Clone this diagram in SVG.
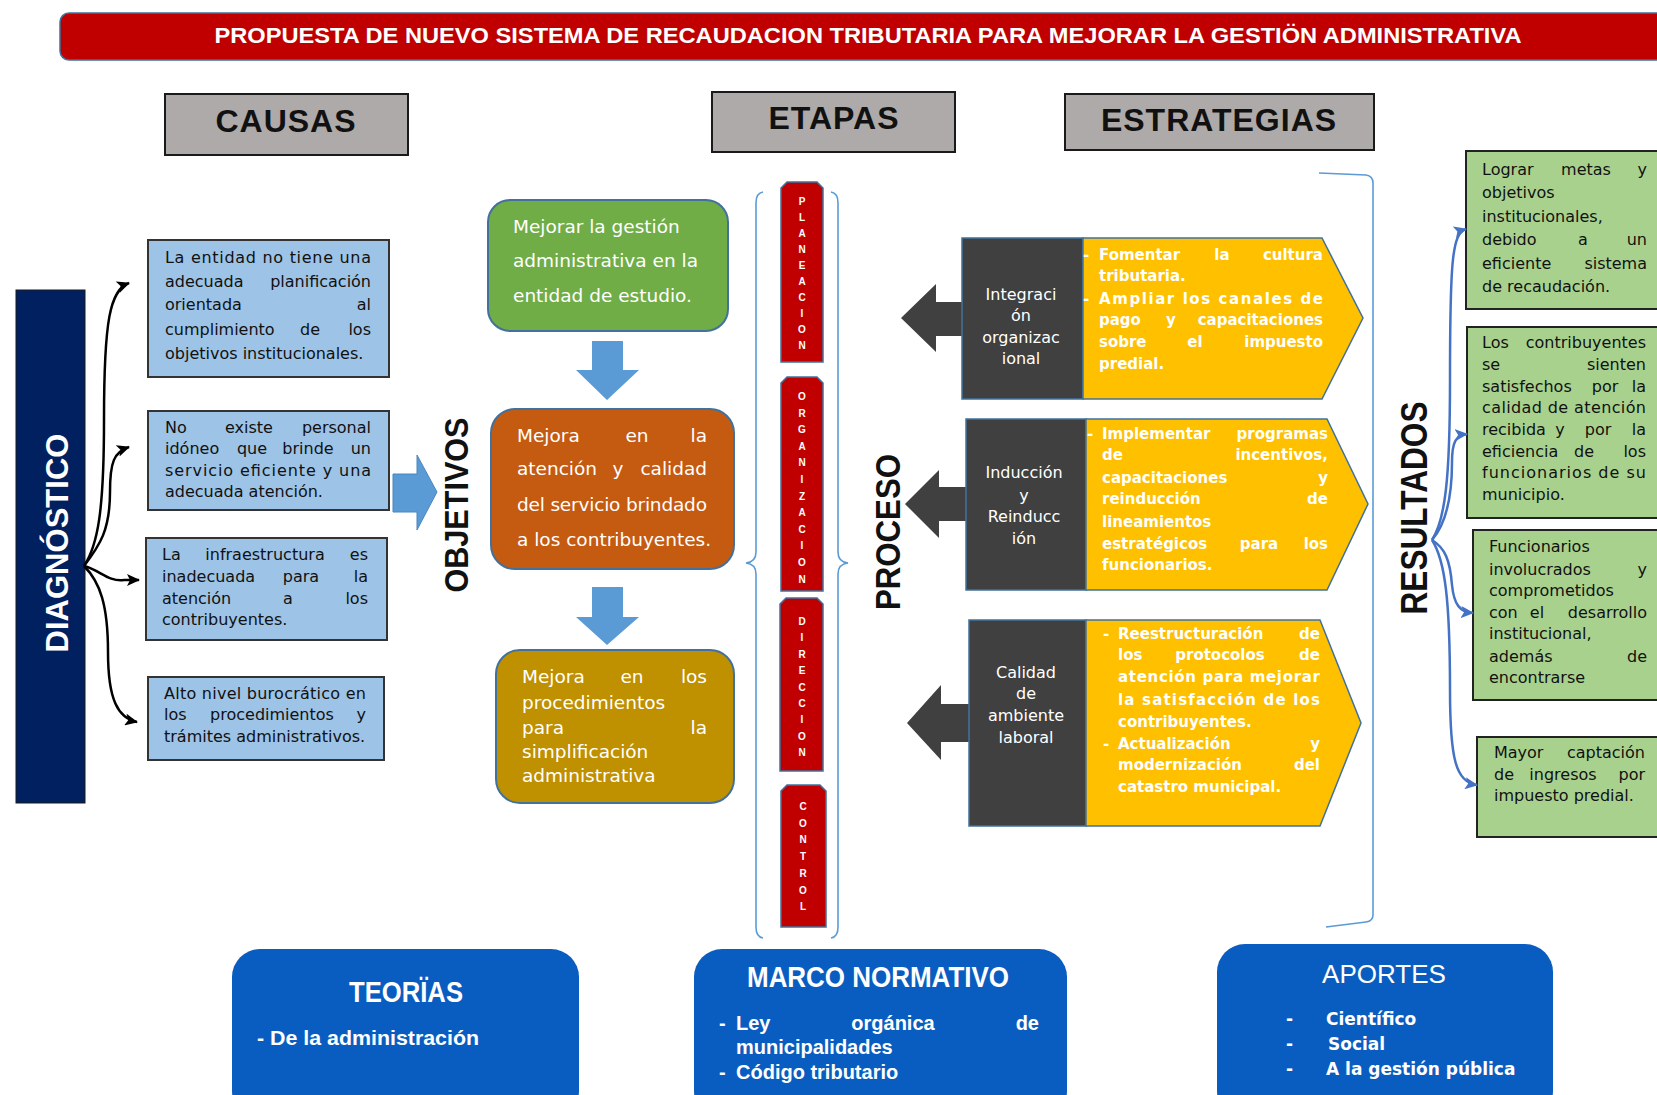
<svg xmlns="http://www.w3.org/2000/svg" width="1657" height="1095" viewBox="0 0 1657 1095">
<defs>
<style>
.hdr{fill:#AEAAAA;stroke:#1a1a1a;stroke-width:2}
.hdrt{font-family:"Liberation Sans",Arial,sans-serif;font-weight:bold;font-size:32px;fill:#111;text-anchor:middle;letter-spacing:1px}
.cause{fill:#9DC3E6;stroke:#333;stroke-width:2}
.ct{font-family:"DejaVu Sans",sans-serif;font-size:16px;fill:#111}
.rt{font-family:"DejaVu Sans",sans-serif;font-size:16px;fill:#111}
.res{fill:#A9D18E;stroke:#222;stroke-width:2}
.ot{font-family:"DejaVu Sans",sans-serif;font-size:18.5px;fill:#fff}
.obox{stroke:#41719C;stroke-width:2}
.vt{font-family:"Liberation Sans",Arial,sans-serif;font-weight:bold;fill:#111;text-anchor:middle}
.etapa{fill:#C00000;stroke:#41719C;stroke-width:1.5}
.el{font-family:"Liberation Sans",Arial,sans-serif;font-weight:bold;font-size:10px;fill:#fff;text-anchor:middle}
.dark{fill:#404040;stroke:#41719C;stroke-width:1.5}
.yel{fill:#FFC000;stroke:#41719C;stroke-width:1.5}
.yt{font-family:"DejaVu Sans",sans-serif;font-weight:bold;font-size:15px;fill:#fff}
.dt{font-family:"DejaVu Sans",sans-serif;font-size:16px;fill:#fff;text-anchor:middle}
.bbox{fill:#0A5DC0}
.bt{font-family:"Liberation Sans",Arial,sans-serif;font-weight:bold;fill:#fff}
.m{text-anchor:middle}
.e{text-anchor:end}
.brace{fill:none;stroke:#5B9BD5;stroke-width:1.6}
.blk{fill:none;stroke:#000;stroke-width:2.5}
.blu{fill:none;stroke:#4472C4;stroke-width:2.5}
</style>
<marker id="ab" markerUnits="userSpaceOnUse" markerWidth="14" markerHeight="12" refX="12" refY="6" orient="auto"><path d="M0,0 L13,6 L0,12 L3,6 Z" fill="#000"/></marker>
<marker id="au" markerUnits="userSpaceOnUse" markerWidth="14" markerHeight="12" refX="12" refY="6" orient="auto"><path d="M0,0 L13,6 L0,12 L3,6 Z" fill="#4472C4"/></marker>
</defs>
<rect width="1657" height="1095" fill="#fff"/>

<g id="title">
<rect x="60" y="13" width="1620" height="47" rx="9" fill="#C00000" stroke="#41719C" stroke-width="1.5"/>
<text x="868" y="43" class="bt m" font-size="22" textLength="1307" lengthAdjust="spacingAndGlyphs">PROPUESTA DE NUEVO SISTEMA DE RECAUDACION TRIBUTARIA PARA MEJORAR LA GESTIÖN ADMINISTRATIVA</text>
</g>

<g id="causas-hdr"><rect class="hdr" x="165" y="94" width="243" height="61"/><text class="hdrt" x="286" y="132">CAUSAS</text></g>
<g id="etapas-hdr"><rect class="hdr" x="712" y="92" width="243" height="60"/><text class="hdrt" x="834" y="129">ETAPAS</text></g>
<g id="estrategias-hdr"><rect class="hdr" x="1065" y="94" width="309" height="56"/><text class="hdrt" x="1219" y="131">ESTRATEGIAS</text></g>

<g id="diagnostico">
<rect x="16" y="290" width="69" height="513" fill="#002060" stroke="#1a1a1a" stroke-width="1"/>
<text transform="translate(68,543) rotate(-90)" font-family="Liberation Sans, Arial, sans-serif" font-weight="bold" font-size="32" fill="#fff" text-anchor="middle" textLength="219" lengthAdjust="spacingAndGlyphs">DIAGNÓSTICO</text>
</g>

<g id="causa1">
<rect class="cause" x="148" y="240" width="241" height="137"/>
<text class="ct" x="165" y="263" textLength="206" lengthAdjust="spacing">La entidad no tiene una</text>
<text class="ct" x="165" y="287">adecuada</text><text class="ct e" x="371" y="287">planificación</text>
<text class="ct" x="165" y="310">orientada</text><text class="ct e" x="371" y="310">al</text>
<text class="ct" x="165" y="335">cumplimiento</text><text class="ct m" x="310" y="335">de</text><text class="ct e" x="371" y="335">los</text>
<text class="ct" x="165" y="359">objetivos institucionales.</text>
</g>
<g id="causa2">
<rect class="cause" x="148" y="411" width="241" height="99"/>
<text class="ct" x="165" y="433">No</text><text class="ct m" x="249" y="433">existe</text><text class="ct e" x="371" y="433">personal</text>
<text class="ct" x="165" y="454">idóneo</text><text class="ct m" x="252" y="454">que</text><text class="ct m" x="308" y="454">brinde</text><text class="ct e" x="371" y="454">un</text>
<text class="ct" x="165" y="476" textLength="206" lengthAdjust="spacing">servicio eficiente y una</text>
<text class="ct" x="165" y="497">adecuada atención.</text>
</g>
<g id="causa3">
<rect class="cause" x="146" y="538" width="241" height="102"/>
<text class="ct" x="162" y="560">La</text><text class="ct m" x="265" y="560">infraestructura</text><text class="ct e" x="368" y="560">es</text>
<text class="ct" x="162" y="582">inadecuada</text><text class="ct m" x="301" y="582">para</text><text class="ct e" x="368" y="582">la</text>
<text class="ct" x="162" y="604">atención</text><text class="ct m" x="288" y="604">a</text><text class="ct e" x="368" y="604">los</text>
<text class="ct" x="162" y="625">contribuyentes.</text>
</g>
<g id="causa4">
<rect class="cause" x="148" y="677" width="236" height="83"/>
<text class="ct" x="164" y="699" textLength="202" lengthAdjust="spacing">Alto nivel burocrático en</text>
<text class="ct" x="164" y="720">los</text><text class="ct m" x="272" y="720">procedimientos</text><text class="ct e" x="366" y="720">y</text>
<text class="ct" x="164" y="742">trámites administrativos.</text>
</g>

<g id="arrow-objetivos">
<polygon points="393,474 417,474 417,455 437,492 417,530 417,512 393,512" fill="#5B9BD5" stroke="#4A86BE" stroke-width="1"/>
<text transform="translate(468,505) rotate(-90)" class="vt" font-size="34" textLength="175" lengthAdjust="spacingAndGlyphs">OBJETIVOS</text>
</g>

<g id="objetivo1">
<rect class="obox" x="488" y="200" width="240" height="131" rx="22" fill="#70AD47"/>
<text class="ot" x="513" y="233">Mejorar la gestión</text>
<text class="ot" x="513" y="267">administrativa en la</text>
<text class="ot" x="513" y="302">entidad de estudio.</text>
</g>
<g id="objetivo2">
<rect class="obox" x="491" y="409" width="243" height="160" rx="24" fill="#C55A11"/>
<text class="ot" x="517" y="442">Mejora</text><text class="ot m" x="637" y="442">en</text><text class="ot e" x="707" y="442">la</text>
<text class="ot" x="517" y="475">atención</text><text class="ot m" x="618" y="475">y</text><text class="ot e" x="707" y="475">calidad</text>
<text class="ot" x="517" y="511" textLength="190" lengthAdjust="spacing">del servicio brindado</text>
<text class="ot" x="517" y="546">a los contribuyentes.</text>
</g>
<g id="objetivo3">
<rect class="obox" x="496" y="650" width="238" height="153" rx="24" fill="#BF9000"/>
<text class="ot" x="522" y="683">Mejora</text><text class="ot m" x="632" y="683">en</text><text class="ot e" x="707" y="683">los</text>
<text class="ot" x="522" y="709">procedimientos</text>
<text class="ot" x="522" y="734">para</text><text class="ot e" x="707" y="734">la</text>
<text class="ot" x="522" y="758">simplificación</text>
<text class="ot" x="522" y="782">administrativa</text>
</g>
<g id="flechas-objetivos">
<polygon points="592,341 623,341 623,370 639,370 607,400 576,370 592,370" fill="#5B9BD5"/>
<polygon points="592,587 623,587 623,617 639,617 607,645 576,617 592,617" fill="#5B9BD5"/>
</g>

<g id="etapas">
<path class="brace" d="M763,192 Q756,193 756,203 L756,552 Q756,562 746,563 Q756,564 756,574 L756,927 Q756,937 763,938"/>
<path class="brace" d="M831,192 Q838,193 838,203 L838,552 Q838,562 848,563 Q838,564 838,574 L838,927 Q838,937 831,938"/>
<g id="planeacion">
<path class="etapa" d="M787,182 L817,182 L823,188 L823,362 L781,362 L781,188 Z"/>
<text class="el"><tspan x="802" y="205">P</tspan><tspan x="802" dy="16">L</tspan><tspan x="802" dy="16">A</tspan><tspan x="802" dy="16">N</tspan><tspan x="802" dy="16">E</tspan><tspan x="802" dy="16">A</tspan><tspan x="802" dy="16">C</tspan><tspan x="802" dy="16">I</tspan><tspan x="802" dy="16">O</tspan><tspan x="802" dy="16">N</tspan></text>
</g>
<g id="organizacion">
<path class="etapa" d="M787,377 L817,377 L823,383 L823,591 L781,591 L781,383 Z"/>
<text class="el"><tspan x="802" y="400">O</tspan><tspan x="802" dy="16.6">R</tspan><tspan x="802" dy="16.6">G</tspan><tspan x="802" dy="16.6">A</tspan><tspan x="802" dy="16.6">N</tspan><tspan x="802" dy="16.6">I</tspan><tspan x="802" dy="16.6">Z</tspan><tspan x="802" dy="16.6">A</tspan><tspan x="802" dy="16.6">C</tspan><tspan x="802" dy="16.6">I</tspan><tspan x="802" dy="16.6">O</tspan><tspan x="802" dy="16.6">N</tspan></text>
</g>
<g id="direccion">
<path class="etapa" d="M786,598 L817,598 L823,604 L823,771 L780,771 L780,604 Z"/>
<text class="el"><tspan x="802" y="625">D</tspan><tspan x="802" dy="16.4">I</tspan><tspan x="802" dy="16.4">R</tspan><tspan x="802" dy="16.4">E</tspan><tspan x="802" dy="16.4">C</tspan><tspan x="802" dy="16.4">C</tspan><tspan x="802" dy="16.4">I</tspan><tspan x="802" dy="16.4">O</tspan><tspan x="802" dy="16.4">N</tspan></text>
</g>
<g id="control">
<path class="etapa" d="M787,785 L820,785 L826,791 L826,927 L781,927 L781,791 Z"/>
<text class="el"><tspan x="803" y="810">C</tspan><tspan x="803" dy="16.7">O</tspan><tspan x="803" dy="16.7">N</tspan><tspan x="803" dy="16.7">T</tspan><tspan x="803" dy="16.7">R</tspan><tspan x="803" dy="16.7">O</tspan><tspan x="803" dy="16.7">L</tspan></text>
</g>
</g>

<text transform="translate(900,532) rotate(-90)" class="vt" font-size="35" textLength="156" lengthAdjust="spacingAndGlyphs">PROCESO</text>

<g id="proceso1">
<polygon points="901,318 936,284 936,302 962,302 962,336 936,336 936,352" fill="#404040"/>
<rect class="dark" x="962" y="238" width="121" height="161"/>
<path class="yel" d="M1083,238 L1322,238 L1363,318 L1322,399 L1083,399 Z"/>
<text class="dt" x="1021" y="300">Integraci</text><text class="dt" x="1021" y="321">ón</text><text class="dt" x="1021" y="343">organizac</text><text class="dt" x="1021" y="364">ional</text>
<text class="yt" x="1083" y="260">-</text><text class="yt" x="1099" y="260">Fomentar</text><text class="yt m" x="1222" y="260">la</text><text class="yt e" x="1323" y="260">cultura</text>
<text class="yt" x="1099" y="281">tributaria.</text>
<text class="yt" x="1083" y="304">-</text><text class="yt" x="1099" y="304" textLength="224" lengthAdjust="spacing">Ampliar los canales de</text>
<text class="yt" x="1099" y="325">pago</text><text class="yt m" x="1171" y="325">y</text><text class="yt e" x="1323" y="325">capacitaciones</text>
<text class="yt" x="1099" y="347">sobre</text><text class="yt m" x="1195" y="347">el</text><text class="yt e" x="1323" y="347">impuesto</text>
<text class="yt" x="1099" y="369">predial.</text>
</g>
<g id="proceso2">
<polygon points="905,504 939,470 939,487 966,487 966,521 939,521 939,538" fill="#404040"/>
<rect class="dark" x="966" y="419" width="120" height="171"/>
<path class="yel" d="M1086,419 L1327,419 L1368,504 L1327,590 L1086,590 Z"/>
<text class="dt" x="1024" y="478">Inducción</text><text class="dt" x="1024" y="501">y</text><text class="dt" x="1024" y="522">Reinducc</text><text class="dt" x="1024" y="544">ión</text>
<text class="yt" x="1087" y="439">-</text><text class="yt" x="1102" y="439">Implementar</text><text class="yt e" x="1328" y="439">programas</text>
<text class="yt" x="1102" y="460">de</text><text class="yt e" x="1328" y="460">incentivos,</text>
<text class="yt" x="1102" y="483">capacitaciones</text><text class="yt e" x="1328" y="483">y</text>
<text class="yt" x="1102" y="504">reinducción</text><text class="yt e" x="1328" y="504">de</text>
<text class="yt" x="1102" y="527">lineamientos</text>
<text class="yt" x="1102" y="549">estratégicos</text><text class="yt m" x="1259" y="549">para</text><text class="yt e" x="1328" y="549">los</text>
<text class="yt" x="1102" y="570">funcionarios.</text>
</g>
<g id="proceso3">
<polygon points="907,723 941,685 941,704 969,704 969,742 941,742 941,760" fill="#404040"/>
<rect class="dark" x="969" y="620" width="117" height="206"/>
<path class="yel" d="M1086,620 L1320,620 L1361,723 L1320,826 L1086,826 Z"/>
<text class="dt" x="1026" y="678">Calidad</text><text class="dt" x="1026" y="699">de</text><text class="dt" x="1026" y="721">ambiente</text><text class="dt" x="1026" y="743">laboral</text>
<text class="yt" x="1103" y="639">-</text><text class="yt" x="1118" y="639">Reestructuración</text><text class="yt e" x="1320" y="639">de</text>
<text class="yt" x="1118" y="660">los</text><text class="yt m" x="1220" y="660">protocolos</text><text class="yt e" x="1320" y="660">de</text>
<text class="yt" x="1118" y="682" textLength="202" lengthAdjust="spacing">atención para mejorar</text>
<text class="yt" x="1118" y="705" textLength="202" lengthAdjust="spacing">la satisfacción de los</text>
<text class="yt" x="1118" y="727">contribuyentes.</text>
<text class="yt" x="1103" y="749">-</text><text class="yt" x="1118" y="749">Actualización</text><text class="yt e" x="1320" y="749">y</text>
<text class="yt" x="1118" y="770">modernización</text><text class="yt e" x="1320" y="770">del</text>
<text class="yt" x="1118" y="792">catastro municipal.</text>
</g>

<path id="corchete" class="brace" d="M1319,173 L1366,175 Q1373,176 1373,183 L1373,915 Q1373,921 1366,922 L1326,927"/>

<text transform="translate(1427,508) rotate(-90)" class="vt" font-size="36" textLength="213" lengthAdjust="spacingAndGlyphs">RESULTADOS</text>

<g id="resultado1">
<rect class="res" x="1466" y="151" width="200" height="158"/>
<text class="rt" x="1482" y="175">Lograr</text><text class="rt m" x="1586" y="175">metas</text><text class="rt e" x="1647" y="175">y</text>
<text class="rt" x="1482" y="198">objetivos</text>
<text class="rt" x="1482" y="222">institucionales,</text>
<text class="rt" x="1482" y="245">debido</text><text class="rt m" x="1583" y="245">a</text><text class="rt e" x="1647" y="245">un</text>
<text class="rt" x="1482" y="269">eficiente</text><text class="rt e" x="1647" y="269">sistema</text>
<text class="rt" x="1482" y="292">de recaudación.</text>
</g>
<g id="resultado2">
<rect class="res" x="1467" y="327" width="200" height="191"/>
<text class="rt" x="1482" y="348">Los</text><text class="rt e" x="1646" y="348">contribuyentes</text>
<text class="rt" x="1482" y="370">se</text><text class="rt e" x="1646" y="370">sienten</text>
<text class="rt" x="1482" y="392">satisfechos</text><text class="rt m" x="1605" y="392">por</text><text class="rt e" x="1646" y="392">la</text>
<text class="rt" x="1482" y="413" textLength="164" lengthAdjust="spacing">calidad de atención</text>
<text class="rt" x="1482" y="435">recibida</text><text class="rt m" x="1560" y="435">y</text><text class="rt m" x="1598" y="435">por</text><text class="rt e" x="1646" y="435">la</text>
<text class="rt" x="1482" y="457">eficiencia</text><text class="rt m" x="1584" y="457">de</text><text class="rt e" x="1646" y="457">los</text>
<text class="rt" x="1482" y="478" textLength="164" lengthAdjust="spacing">funcionarios de su</text>
<text class="rt" x="1482" y="500">municipio.</text>
</g>
<g id="resultado3">
<rect class="res" x="1473" y="530" width="200" height="170"/>
<text class="rt" x="1489" y="552">Funcionarios</text>
<text class="rt" x="1489" y="575">involucrados</text><text class="rt e" x="1647" y="575">y</text>
<text class="rt" x="1489" y="596">comprometidos</text>
<text class="rt" x="1489" y="618">con</text><text class="rt m" x="1537" y="618">el</text><text class="rt e" x="1647" y="618">desarrollo</text>
<text class="rt" x="1489" y="639">institucional,</text>
<text class="rt" x="1489" y="662">además</text><text class="rt e" x="1647" y="662">de</text>
<text class="rt" x="1489" y="683">encontrarse</text>
</g>
<g id="resultado4">
<rect class="res" x="1477" y="737" width="200" height="100"/>
<text class="rt" x="1494" y="758">Mayor</text><text class="rt e" x="1645" y="758">captación</text>
<text class="rt" x="1494" y="780">de</text><text class="rt m" x="1563" y="780">ingresos</text><text class="rt e" x="1645" y="780">por</text>
<text class="rt" x="1494" y="801">impuesto predial.</text>
</g>

<g id="teorias">
<rect class="bbox" x="232" y="949" width="347" height="170" rx="28"/>
<text class="bt m" x="406" y="1002" font-size="29" textLength="114" lengthAdjust="spacingAndGlyphs">TEORÏAS</text>
<text class="bt" x="257" y="1045" font-size="21" textLength="222" lengthAdjust="spacingAndGlyphs">- De la administración</text>
</g>
<g id="marco">
<rect class="bbox" x="694" y="949" width="373" height="170" rx="28"/>
<text class="bt m" x="878" y="987" font-size="29" textLength="262" lengthAdjust="spacingAndGlyphs">MARCO NORMATIVO</text>
<text class="bt" x="719" y="1030" font-size="20">-</text><text class="bt" x="736" y="1030" font-size="20">Ley</text><text class="bt m" x="893" y="1030" font-size="20">orgánica</text><text class="bt e" x="1039" y="1030" font-size="20">de</text>
<text class="bt" x="736" y="1054" font-size="20">municipalidades</text>
<text class="bt" x="719" y="1079" font-size="20">-</text><text class="bt" x="736" y="1079" font-size="20">Código tributario</text>
</g>
<g id="aportes">
<rect class="bbox" x="1217" y="944" width="336" height="175" rx="28"/>
<text x="1384" y="983" font-family="Liberation Sans, Arial, sans-serif" font-size="26" fill="#fff" text-anchor="middle">APORTES</text>
<text class="yt" x="1286" y="1025" style="font-size:17px">-</text><text class="yt" x="1326" y="1025" style="font-size:17px">Científico</text>
<text class="yt" x="1286" y="1050" style="font-size:17px">-</text><text class="yt" x="1328" y="1050" style="font-size:17px">Social</text>
<text class="yt" x="1286" y="1075" style="font-size:17px">-</text><text class="yt" x="1326" y="1075" style="font-size:17px">A la gestión pública</text>
</g>

<g id="conectores">
<path class="blk" marker-end="url(#ab)" d="M84,566 C98,545 104,510 104,420 C104,320 110,290 129,283"/>
<path class="blk" marker-end="url(#ab)" d="M84,566 C100,545 110,530 110,492 C110,462 114,452 129,447"/>
<path class="blk" marker-end="url(#ab)" d="M84,566 C100,570 108,582 124,580 L139,580"/>
<path class="blk" marker-end="url(#ab)" d="M84,566 C100,582 108,605 108,652 C108,700 118,718 137,722"/>
<path class="blu" marker-end="url(#au)" d="M1432,540 C1445,520 1450,480 1450,380 C1450,262 1452,233 1466,229"/>
<path class="blu" marker-end="url(#au)" d="M1432,540 C1445,525 1452,500 1452,462 C1452,442 1456,435 1467,434"/>
<path class="blu" marker-end="url(#au)" d="M1432,540 C1445,548 1450,560 1452,585 C1454,605 1460,612 1473,613"/>
<path class="blu" marker-end="url(#au)" d="M1432,540 C1445,560 1450,600 1450,690 C1450,760 1456,782 1477,785"/>
</g>
</svg>
